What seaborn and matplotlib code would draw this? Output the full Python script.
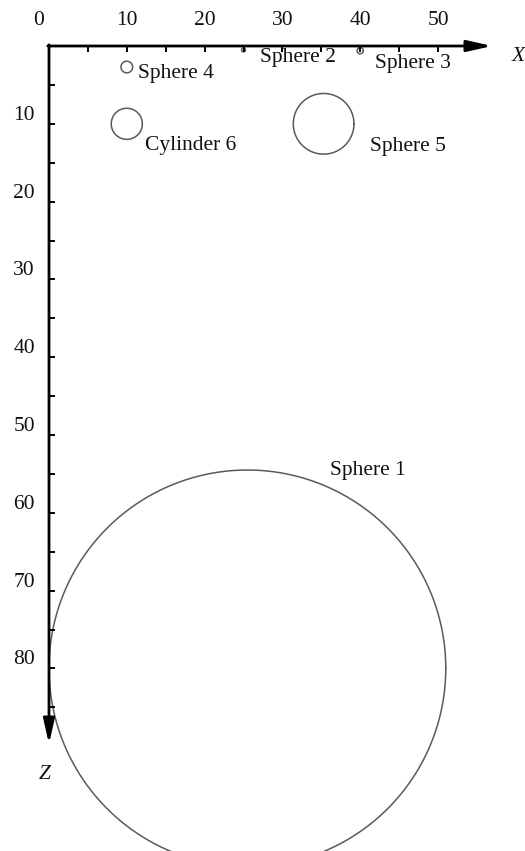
import numpy as np
import pandas as pd
import matplotlib
matplotlib.use("Agg")
import matplotlib.pyplot as plt
import seaborn as sns

# Anomalous bodies in the X-Z section (units along both axes)
names = ["Sphere 1", "Sphere 2", "Sphere 3", "Sphere 4", "Sphere 5", "Cylinder 6"]
center_x = [25.5, 25.0, 40.0, 10.0, 35.3, 10.0]
center_z = [80.0, 0.5, 0.6, 2.7, 10.0, 10.0]
radius = [25.5, 0.25, 0.4, 0.75, 3.9, 2.0]

x_tick_labels = [0, 10, 20, 30, 40, 50]
z_tick_labels = [10, 20, 30, 40, 50, 60, 70, 80]
x_minor = [5, 10, 15, 20, 25, 30, 35, 40, 45, 50]
z_minor = list(range(5, 90, 5))

# Where each body's name sits (left edge, vertical centre)
label_pos = {
    "Sphere 1": (36.1, 54.5),
    "Sphere 2": (27.1, 1.5),
    "Sphere 3": (41.9, 2.2),
    "Sphere 4": (11.4, 3.5),
    "Sphere 5": (41.3, 12.9),
    "Cylinder 6": (12.3, 12.8),
}

sns.set_theme(style="white")
plt.rcParams["font.family"] = ["Liberation Serif", "DejaVu Serif"]

# Outline of every body as a closed curve
theta = np.linspace(0, 2 * np.pi, 361)
frames = []
for n, cx, cz, r in zip(names, center_x, center_z, radius):
    frames.append(pd.DataFrame({
        "name": n,
        "x": cx + r * np.cos(theta),
        "z": cz + r * np.sin(theta),
    }))
outlines = pd.concat(frames, ignore_index=True)

scale = 7.78  # pixels per unit
W, H = 525, 851
ox, oz = 49, 46

fig = plt.figure(figsize=(W / 100, H / 100), dpi=100)
ax = fig.add_axes([0, 0, 1, 1])

sns.lineplot(data=outlines, x="x", y="z", units="name", estimator=None,
             sort=False, color="#5a5a5a", lw=1.1, ax=ax, legend=False)

ax.set_xlim(-ox / scale, (W - ox) / scale)
ax.set_ylim((H - oz) / scale, -oz / scale)
ax.set_aspect("equal")
ax.axis("off")

# Axes with arrowheads
arrow = dict(arrowstyle="-|>,head_length=0.75,head_width=0.17", lw=2.0,
             color="black", mutation_scale=20, shrinkA=0, shrinkB=0)
ax.annotate("", xy=((492 - ox) / scale, 0), xytext=(-0.15, 0), arrowprops=arrow)
ax.annotate("", xy=(0, (744 - oz) / scale), xytext=(0, -0.15), arrowprops=arrow)

tick_len = 0.8
ax.vlines(x_minor, 0, tick_len, color="black", lw=1.4)
ax.hlines(z_minor, 0, tick_len, color="black", lw=1.4)

fs = 15.5
for v in x_tick_labels:
    xpos = v if v != 0 else -1.4
    ax.text(xpos, -3.3, str(v), ha="center", va="center", fontsize=fs, color="#111111")
for v in z_tick_labels:
    ax.text(-1.8, v - 1.1, str(v), ha="right", va="center", fontsize=fs, color="#111111")

ax.text((512 - ox) / scale, 1.3, "X", ha="left", va="center", fontsize=fs,
        style="italic", color="#111111")
ax.text(-0.5, 93.7, "Z", ha="center", va="center", fontsize=fs,
        style="italic", color="#111111")

for n in names:
    lx, lz = label_pos[n]
    ax.text(lx, lz, n, ha="left", va="center", fontsize=fs, color="#111111")

fig.savefig("out.png", dpi=100, facecolor="white")
